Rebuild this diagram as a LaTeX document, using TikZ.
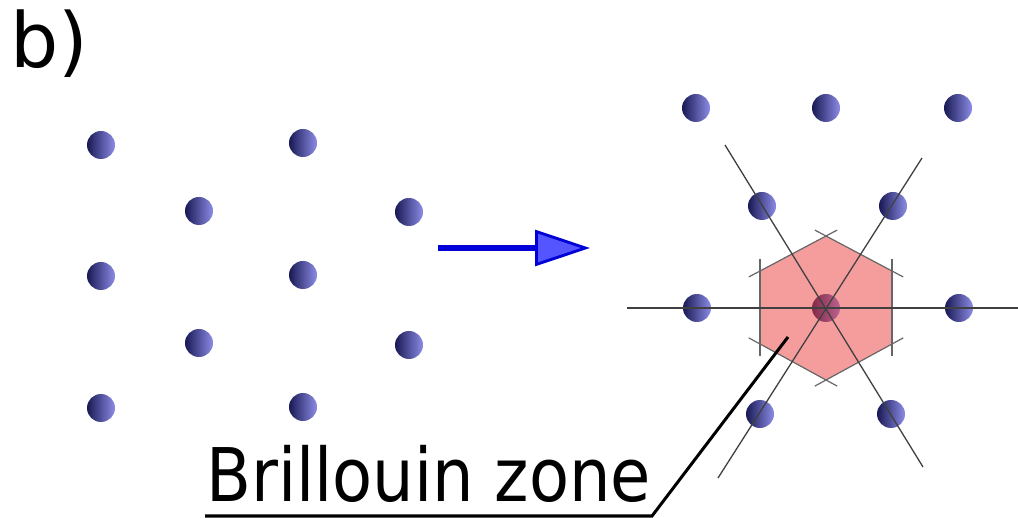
\documentclass[tikz,border=0pt]{standalone}
\usepackage{fontspec}
\setmainfont{DejaVu Sans}
\usetikzlibrary{arrows.meta,calc}

\definecolor{dotdark}{RGB}{25,25,85}
\definecolor{dotmid}{RGB}{72,72,160}
\definecolor{dotlight}{RGB}{140,140,230}
\definecolor{zonefill}{RGB}{235,60,60}
\definecolor{arrowblue}{RGB}{0,0,215}
\definecolor{arrowfill}{RGB}{85,85,255}

\tikzset{
  latdot/.style={circle, inner sep=0pt, minimum size=28pt, left color=dotdark, middle color=dotmid, right color=dotlight},
  axisline/.style={draw=black!75, line width=1.3pt},
  zoneedge/.style={draw=black!60, line width=1.2pt},
}

\begin{document}
\begin{tikzpicture}[x=1pt, y=-1pt]
    \useasboundingbox (0,0) rectangle (1018,518);

    % Label
    \node[anchor=base west, inner sep=0pt, font=\fontsize{76}{80}\selectfont] (partlabel) at (10,68) {b)};

    % Direct lattice
    \node[latdot] (l1) at (101,145) {};
    \node[latdot] (l2) at (303,143) {};
    \node[latdot] (l3) at (199,211) {};
    \node[latdot] (l4) at (409,212) {};
    \node[latdot] (l5) at (101,276) {};
    \node[latdot] (l6) at (303,275) {};
    \node[latdot] (l7) at (199,343) {};
    \node[latdot] (l8) at (409,345) {};
    \node[latdot] (l9) at (101,408) {};
    \node[latdot] (l10) at (303,407) {};

    % Arrow
    \coordinate (arrowstart) at (438,248);
    \coordinate (arrowend) at (590,248);
    \draw[arrowblue, line width=6pt, -{Triangle[length=55pt, width=36pt, line width=2.8pt, fill=arrowfill]}] (arrowstart) -- (arrowend);

    % Reciprocal lattice
    \node[latdot] (r1) at (696,108) {};
    \node[latdot] (r2) at (826,108) {};
    \node[latdot] (r3) at (958,108) {};
    \node[latdot] (r4) at (762,206) {};
    \node[latdot] (r5) at (893,206) {};
    \node[latdot] (r6) at (697,308) {};
    \node[latdot] (r0) at (826,308) {};
    \node[latdot] (r7) at (959,308) {};
    \node[latdot] (r8) at (760,414) {};
    \node[latdot] (r9) at (891,414) {};

    % Brillouin zone
    \coordinate (hA) at (826,236);
    \coordinate (hB) at (892,271);
    \coordinate (hC) at (892,344);
    \coordinate (hD) at (826,380);
    \coordinate (hE) at (760,344);
    \coordinate (hF) at (760,271);
    \fill[zonefill, fill opacity=0.5] (hA) -- (hB) -- (hC) -- (hD) -- (hE) -- (hF) -- cycle;
    \draw[zoneedge] ($(hA)!-0.17!(hB)$) -- ($(hB)!-0.17!(hA)$);
    \draw[zoneedge] ($(hB)!-0.17!(hC)$) -- ($(hC)!-0.17!(hB)$);
    \draw[zoneedge] ($(hC)!-0.17!(hD)$) -- ($(hD)!-0.17!(hC)$);
    \draw[zoneedge] ($(hD)!-0.17!(hE)$) -- ($(hE)!-0.17!(hD)$);
    \draw[zoneedge] ($(hE)!-0.17!(hF)$) -- ($(hF)!-0.17!(hE)$);
    \draw[zoneedge] ($(hF)!-0.17!(hA)$) -- ($(hA)!-0.17!(hF)$);

    % Lines through the origin
    \draw[axisline] (627,308) -- (1018,308);
    \draw[axisline] (725,145) -- (923,467);
    \draw[axisline] (922,158) -- (718,478);

    % Caption and pointer
    \node[anchor=base west, inner sep=0pt, xscale=0.885, font=\fontsize{74}{80}\selectfont] (zonelabel) at (206,502) {Brillouin zone};
    \coordinate (zonetip) at (788,337);
    \coordinate (zonebend) at (652,516);
    \coordinate (zoneend) at (205,516);
    \draw[line width=3pt] (zonetip) -- (zonebend) -- (zoneend);
\end{tikzpicture}
\end{document}
